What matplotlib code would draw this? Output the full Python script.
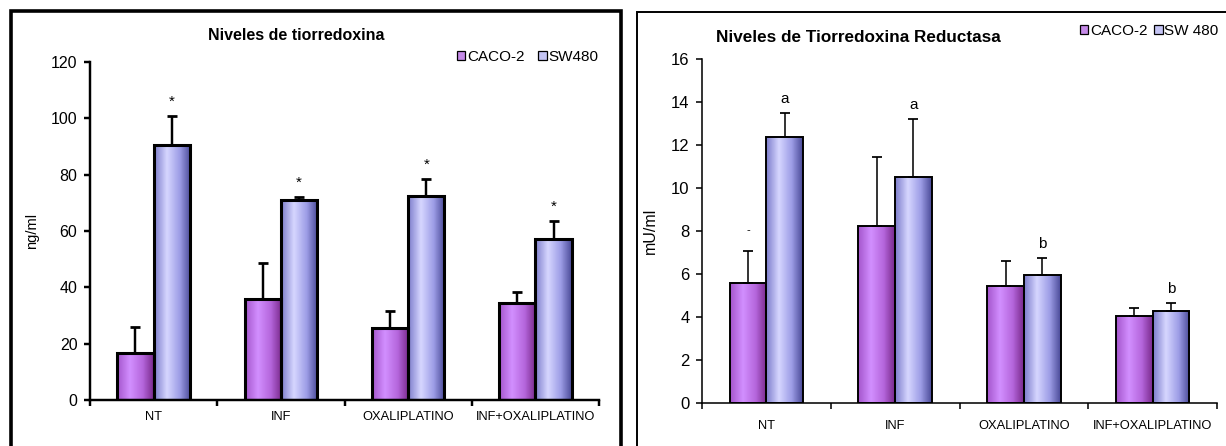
import numpy as np
import matplotlib
matplotlib.use("Agg")
from matplotlib import pyplot as plt
from matplotlib.colors import LinearSegmentedColormap
from matplotlib.patches import Patch, Rectangle

plt.rcParams['font.family'] = ['Liberation Sans', 'DejaVu Sans']

treatments = ["NT", "INF", "OXALIPLATINO", "INF+OXALIPLATINO"]

# tiorredoxina (ng/ml)
tx_caco = [16.7, 36.0, 25.5, 34.5]
tx_caco_sd = [9.2, 12.5, 6.0, 4.0]
tx_sw = [90.5, 71.0, 72.5, 57.0]
tx_sw_sd = [10.3, 1.0, 6.0, 6.5]
tx_sw_marks = ["*", "*", "*", "*"]

# tiorredoxina reductasa (mU/ml)
txr_caco = [5.6, 8.25, 5.45, 4.05]
txr_caco_sd = [1.45, 3.2, 1.15, 0.35]
txr_sw = [12.35, 10.5, 5.95, 4.3]
txr_sw_sd = [1.15, 2.7, 0.8, 0.35]
txr_caco_marks = ["-", "", "", ""]
txr_sw_marks = ["a", "a", "b", "b"]

W, H = 1226, 446
cmap_caco = LinearSegmentedColormap.from_list(
    "caco", [(0, "#a455cc"), (0.35, "#d28fff"), (0.7, "#b566dc"), (1, "#7a2a8c")])
cmap_sw = LinearSegmentedColormap.from_list(
    "sw", [(0, "#7d7dcc"), (0.35, "#d6d6ff"), (0.7, "#9d9de6"), (1, "#4a4a98")])


def shade(ax, bars, cmap):
    """Excel-like horizontal gradient inside each bar."""
    grad = np.linspace(0, 1, 64).reshape(1, -1)
    for b in bars:
        x, y = b.get_x(), b.get_y()
        w, h = b.get_width(), b.get_height()
        im = ax.imshow(grad, extent=[x, x + w, y, y + h], cmap=cmap,
                       aspect='auto', zorder=1.5, interpolation='bilinear')
        im.set_clip_path(b)


def panel(rect, caco, caco_sd, sw, sw_sd, ymax, ystep, lw, ylabel,
          sw_marks, caco_marks=None, xlab_pad=5, tick_size=11.5,
          ylab_size=10, mark_size=11):
    ax = fig.add_axes(rect)
    x = np.arange(len(treatments)) + 0.5
    bw = 0.285
    b1 = ax.bar(x - bw / 2, caco, bw, facecolor='none', edgecolor='black',
                linewidth=lw, zorder=2)
    b2 = ax.bar(x + bw / 2, sw, bw, facecolor='none', edgecolor='black',
                linewidth=lw, zorder=2)
    shade(ax, b1, cmap_caco)
    shade(ax, b2, cmap_sw)
    zeros = [0] * len(treatments)
    ax.errorbar(x - bw / 2, caco, yerr=[zeros, caco_sd], fmt='none',
                ecolor='black', elinewidth=lw * 0.8, capsize=3.5,
                capthick=lw * 0.9, zorder=1.8)
    ax.errorbar(x + bw / 2, sw, yerr=[zeros, sw_sd], fmt='none',
                ecolor='black', elinewidth=lw * 0.8, capsize=3.5,
                capthick=lw * 0.9, zorder=1.8)
    for xi, v, e, m in zip(x + bw / 2, sw, sw_sd, sw_marks):
        ax.annotate(m, (xi, v + e), xytext=(0, 5), textcoords='offset points',
                    ha='center', va='bottom', fontsize=mark_size)
    if caco_marks:
        for xi, v, e, m in zip(x - bw / 2, caco, caco_sd, caco_marks):
            if m:
                ax.annotate(m, (xi, v + e), xytext=(0, 12),
                            textcoords='offset points', ha='center',
                            va='bottom', fontsize=8)
    ax.set_xlim(0, len(treatments))
    ax.set_ylim(0, ymax)
    ax.set_yticks(np.arange(0, ymax + 0.1, ystep))
    ax.set_xticks(np.arange(len(treatments) + 1))
    ax.set_xticklabels([])
    ax.set_xticks(x, minor=True)
    ax.set_xticklabels(treatments, minor=True, fontsize=9.3)
    ax.tick_params(axis='x', which='minor', length=0, pad=xlab_pad)
    ax.tick_params(axis='x', which='major', length=4, width=lw * 0.8,
                   direction='out')
    ax.tick_params(axis='y', length=4, width=lw * 0.8, direction='out',
                   labelsize=tick_size, pad=5)
    for s in ['top', 'right']:
        ax.spines[s].set_visible(False)
    for s in ['left', 'bottom']:
        ax.spines[s].set_linewidth(lw * 0.8)
    ax.set_ylabel(ylabel, fontsize=ylab_size)
    return ax


fig = plt.figure(figsize=(W / 100, H / 100), dpi=100)

# panel borders
fig.patches.append(Rectangle((11 / W, -0.05), 610 / W, 1.05 - 11 / H,
                             transform=fig.transFigure, fill=False,
                             edgecolor='black', linewidth=2.6))
fig.patches.append(Rectangle((637 / W, -0.05), 0.5, 1.05 - 12 / H,
                             transform=fig.transFigure, fill=False,
                             edgecolor='black', linewidth=1.4))

ax1 = panel([90 / W, 46 / H, 509 / W, 338 / H], tx_caco, tx_caco_sd, tx_sw,
            tx_sw_sd, 120, 20, 2.2, "ng/ml", tx_sw_marks, xlab_pad=8,
            tick_size=11.5, ylab_size=10.5, mark_size=11)
ax1.yaxis.set_label_coords(-0.1, 0.5)
ax2 = panel([702 / W, 43 / H, 515 / W, 344 / H], txr_caco, txr_caco_sd,
            txr_sw, txr_sw_sd, 16, 2, 1.4, "mU/ml", txr_sw_marks,
            caco_marks=txr_caco_marks, xlab_pad=12, tick_size=12,
            ylab_size=11.5, mark_size=11)
ax2.yaxis.set_label_coords(-0.085, 0.5)

fig.text(296 / W, 1 - 36 / H, "Niveles de tiorredoxina", ha='center',
         va='center', fontsize=11.5, fontweight='bold')
fig.text(858 / W, 1 - 37 / H, "Niveles de Tiorredoxina Reductasa",
         ha='center', va='center', fontsize=12.3, fontweight='bold')

handles = [Patch(facecolor="#c58ae8", edgecolor='black', linewidth=0.9),
           Patch(facecolor="#c4c4f4", edgecolor='black', linewidth=0.9)]
fig.legend(handles, ["CACO-2", "SW480"], loc='center left',
           bbox_to_anchor=(457 / W, 1 - 57 / H), ncol=2, frameon=False,
           fontsize=11, handlelength=0.55, handleheight=0.55,
           handletextpad=0.1, columnspacing=0.9, borderaxespad=0, borderpad=0)
fig.legend(handles, ["CACO-2", "SW 480"], loc='center left',
           bbox_to_anchor=(1080 / W, 1 - 31 / H), ncol=2, frameon=False,
           fontsize=11, handlelength=0.55, handleheight=0.55,
           handletextpad=0.1, columnspacing=0.45, borderaxespad=0, borderpad=0)

fig.savefig("out.png", dpi=100)
